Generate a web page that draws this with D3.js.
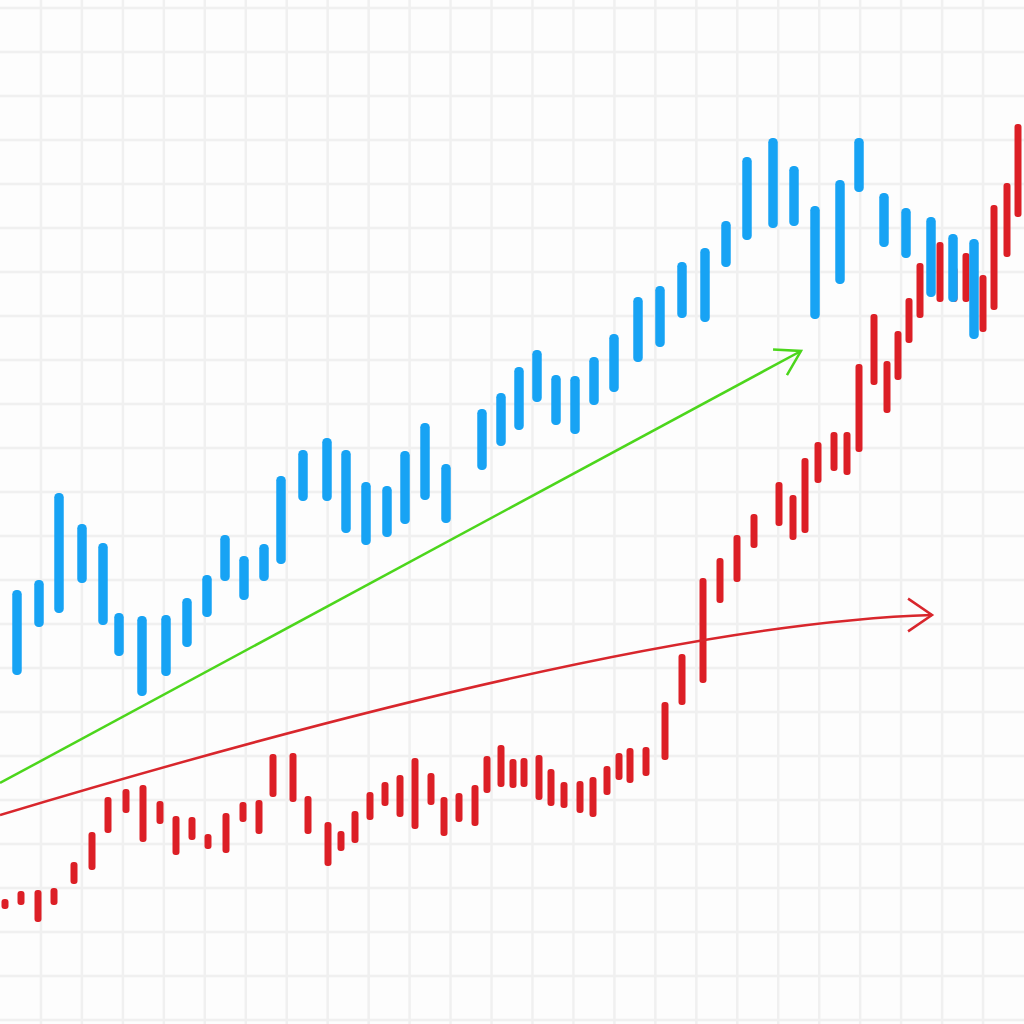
<!DOCTYPE html>
<html><head><meta charset="utf-8">
<script src="https://cdn.jsdelivr.net/npm/d3@7"></script>
<style>html,body{margin:0;padding:0;background:#fdfdfd;}svg{display:block;}</style>
</head><body>
<svg id="chart" width="1024" height="1024"></svg>
<script>
// Blue series: session, high, low
const blueT  = [1.7,3.9,5.9,8.2,10.3,11.9,14.2,16.6,18.7,20.7,22.5,24.4,26.4,28.1,30.3,32.7,34.6,36.6,38.7,40.5,42.5,44.6,48.2,50.1,51.9,53.7,55.6,57.5,59.4,61.4,63.8,66.0,68.2,70.5,72.6,74.7,77.3,79.4,81.5,84.0,85.9,88.4,90.6,93.1,95.3,97.4];
const blueHi = [43.4,44.4,53.1,50.0,48.1,41.1,40.8,40.9,42.6,44.9,48.9,46.8,48.0,54.8,57.4,58.6,57.4,54.2,53.8,57.3,60.1,56.0,61.5,63.1,65.7,67.4,64.9,64.8,66.7,69.0,72.7,73.8,76.2,77.6,80.3,86.7,88.6,85.8,81.8,84.4,88.6,83.1,81.6,80.7,79.0,78.5];
const blueLo = [34.9,39.7,41.1,44.1,39.9,36.8,32.8,34.8,37.7,40.7,44.3,42.4,44.3,46.0,52.3,52.3,49.1,47.9,48.7,50.0,52.4,50.1,55.4,57.8,59.4,62.2,59.9,59.0,61.9,63.2,66.2,67.7,70.6,70.2,75.7,78.4,79.6,79.8,70.5,74.0,83.2,77.7,76.6,72.7,72.2,68.5];
// Red series: session, high, low
const redT  = [0.5,2.1,3.8,5.4,7.4,9.2,10.8,12.6,14.3,16.0,17.6,19.2,20.8,22.6,24.3,25.9,27.3,29.3,30.8,32.8,34.1,35.5,37.0,38.5,40.0,41.5,43.1,44.4,45.9,47.5,48.7,50.1,51.3,52.4,53.9,55.1,56.4,58.0,59.3,60.7,61.9,63.0,64.6,66.5,68.2,70.3,72.0,73.7,75.4,77.9,79.3,80.5,81.8,83.4,84.7,85.9,87.4,88.7,89.8,90.9,92.0,94.0,95.4,96.6,98.3,99.4,100.7,101.8];
const redHi = [12.5,13.3,13.4,13.6,16.2,19.2,22.7,23.5,23.9,22.3,20.8,20.7,19.0,21.1,22.2,22.4,27.0,27.1,22.8,20.2,19.3,21.3,23.2,24.2,24.9,26.6,25.1,22.7,23.1,23.9,26.8,27.9,26.5,26.6,26.9,25.5,24.2,24.3,24.7,25.8,27.1,27.6,27.7,32.2,37.0,44.6,46.6,48.9,51.0,54.2,52.9,56.6,58.2,59.2,59.2,66.0,71.0,66.3,69.3,72.6,76.1,78.2,75.7,77.1,74.9,81.9,84.1,90.0];
const redLo = [11.5,11.9,10.2,11.9,14.0,15.4,19.1,21.1,18.2,20.0,16.9,18.4,17.5,17.1,20.2,19.0,22.7,22.2,19.0,15.8,17.3,18.1,20.4,21.8,20.7,19.5,21.9,18.8,20.2,19.8,23.1,23.7,23.6,23.7,22.4,21.8,21.6,21.1,20.7,22.9,24.4,24.1,24.8,26.4,31.9,34.1,42.1,44.2,47.6,49.8,48.4,49.1,54.1,55.3,54.9,57.2,63.9,61.1,64.4,68.1,70.6,72.2,72.2,72.2,69.2,71.4,76.7,80.7];
// Trend annotations (session, level)
const greenTrend = [[0, 24.1], [80.1, 67.3]];
const redTrend = [[0, 20.9], [63.7, 40.0], [93.2, 40.9]]; // start, bend, end

const W = 1024, H = 1024;
const svg = d3.select("#chart");
const x = d3.scaleLinear().domain([0, 102.4]).range([0, W]);
const y = d3.scaleLinear().domain([0, 102.4]).range([H, 0]);

// background + grid
svg.append("rect").attr("width", W).attr("height", H).attr("fill", "#fdfdfd");
const gx = d3.range(1, 25).map(i => i * 4.096);
const gy = d3.range(0, 24).map(i => 101.6 - i * 4.4);
const grid = svg.append("g").attr("stroke", "#f0f0f0").attr("stroke-width", 2.5);
grid.selectAll("line.v").data(gx).join("line").attr("class","v")
  .attr("x1", d => x(d)).attr("x2", d => x(d)).attr("y1", 0).attr("y2", H);
grid.selectAll("line.h").data(gy).join("line").attr("class","h")
  .attr("y1", d => y(d)).attr("y2", d => y(d)).attr("x1", 0).attr("x2", W);

function bars(T, Hi, Lo, color, w, cls) {
  const data = T.map((t, i) => ({t, hi: Hi[i], lo: Lo[i]}));
  svg.append("g").selectAll("rect." + cls).data(data).join("rect")
    .attr("class", cls)
    .attr("x", d => x(d.t) - w / 2)
    .attr("width", w)
    .attr("y", d => y(d.hi))
    .attr("height", d => y(d.lo) - y(d.hi))
    .attr("rx", w / 2 - 0.5)
    .attr("fill", color);
}
bars(redT, redHi, redLo, "#dc1f26", 7, "red");
bars(blueT, blueHi, blueLo, "#17a3f4", 9.5, "blue");

function arrowHead(p0, p1, color, len, ang) {
  const x1 = x(p1[0]), y1 = y(p1[1]);
  const a = Math.atan2(y1 - y(p0[1]), x1 - x(p0[0]));
  const pts = [[x1 - len * Math.cos(a - ang), y1 - len * Math.sin(a - ang)], [x1, y1],
               [x1 - len * Math.cos(a + ang), y1 - len * Math.sin(a + ang)]];
  svg.append("path").attr("d", d3.line()(pts)).attr("fill", "none")
    .attr("stroke", color).attr("stroke-width", 2.5).attr("stroke-linejoin", "miter");
}

// green arrow
const line = d3.line().x(d => x(d[0])).y(d => y(d[1]));
svg.append("path").attr("d", line(greenTrend)).attr("fill", "none")
  .attr("stroke", "#4cd61c").attr("stroke-width", 2.5);
arrowHead(greenTrend[0], greenTrend[1], "#4cd61c", 28, 0.55);

// red curved arrow
const rp = d3.path();
rp.moveTo(x(redTrend[0][0]), y(redTrend[0][1]));
rp.quadraticCurveTo(x(redTrend[1][0]), y(redTrend[1][1]), x(redTrend[2][0]), y(redTrend[2][1]));
svg.append("path").attr("d", rp.toString()).attr("fill", "none")
  .attr("stroke", "#d8262c").attr("stroke-width", 2.5);
arrowHead([redTrend[1][0], redTrend[2][1]], redTrend[2], "#d8262c", 29, 0.6);
</script>
</body></html>
